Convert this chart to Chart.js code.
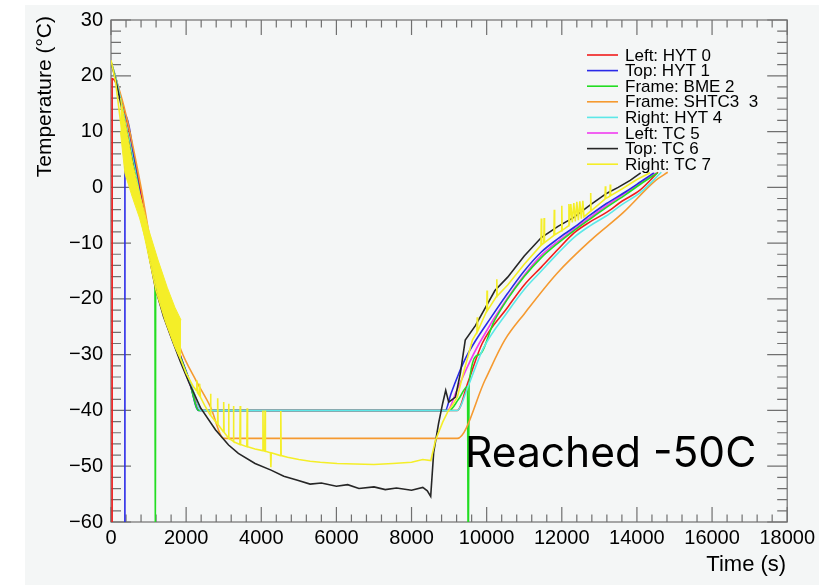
<!DOCTYPE html>
<html>
<head>
<meta charset="utf-8">
<script src="https://cdn.jsdelivr.net/npm/chart.js@4.4.1/dist/chart.umd.min.js"></script>
<style>
  html, body { margin: 0; padding: 0; background: #fff; }
  #wrap { width: 819px; height: 585px; }
</style>
</head>
<body>
<div id="wrap"><canvas id="chart" width="819" height="585"></canvas></div>
<script>
// axis ticks
const xTickValues = [0, 2000, 4000, 6000, 8000, 10000, 12000, 14000, 16000, 18000];
const yTickValues = [-60, -50, -40, -30, -20, -10, 0, 10, 20, 30];

const seriesNames = ['Left: HYT 0', 'Top: HYT 1', 'Frame: BME 2', 'Frame: SHTC3  3',
                     'Right: HYT 4', 'Left: TC 5', 'Top: TC 6', 'Right: TC 7'];
const seriesColors = ['#f01c1c', '#2a2ae8', '#22dd22', '#f59a30',
                      '#5ce8e8', '#f03cf0', '#262626', '#f4ee28'];

// Left: HYT 0
const hyt0Time = [30, 31, 400, 700, 950, 1180, 1500, 1865, 2100, 2450, 9220, 9500, 9880, 10560, 11000, 11455, 11900, 12320, 12750, 13190, 13600, 14080, 14560];
const hyt0Temp = [-70, 19.5, 12.5, 2.5, -7, -15, -22, -30.5, -35, -40, -40, -35, -28, -21.5, -17.5, -14.3, -11.1, -8.2, -6.2, -4.5, -2.5, -0.5, 2.7];

// Top: HYT 1
const hyt1Time = [370, 371, 700, 950, 1180, 1400, 1630, 2075, 2330, 8900, 9050, 9250, 9450, 9695, 10100, 10560, 11000, 11455, 11900, 12320, 12750, 13190, 13700, 14100, 14450];
const hyt1Temp = [-70, 13, 1.5, -8.5, -17, -22.3, -26.5, -34.4, -40, -40, -37, -33.5, -30.5, -27.6, -23.5, -19, -15, -11.6, -9.2, -7.2, -5, -2.9, -0.8, 1, 2.6];

// Frame: BME 2
const bme2Time = [0, 150, 400, 700, 950, 1170, 1180, 1190, 1400, 1630, 2075, 2340, 9000, 9250, 9490, 9510, 9530, 9800, 10200, 10560, 11000, 11455, 11900, 12320, 12750, 13190, 13700, 14100, 14550];
const bme2Temp = [22.5, 19, 11, 1, -9, -16.8, -70, -17.2, -22.5, -26.7, -34.5, -40, -40, -38, -35.7, -70, -35.3, -30, -24, -20, -16, -12.6, -10, -7.8, -5.7, -3.6, -1.3, 0.6, 2.6];

// Frame: SHTC3 3
const shtc3Time = [0, 400, 800, 1100, 1500, 1865, 2260, 2650, 3000, 9220, 9960, 10480, 11010, 11876, 12770, 13640, 14500, 14820];
const shtc3Temp = [22.5, 13, 0, -11.5, -21.5, -29.2, -34.6, -39.4, -45, -45, -34.5, -27.4, -22.6, -15.4, -9.5, -4.5, 1.25, 2.7];

// Right: HYT 4
const hyt4Time = [0, 150, 400, 700, 950, 1180, 1400, 1630, 1810, 2075, 2250, 2390, 9220, 9500, 9900, 10560, 11000, 11455, 11900, 12320, 12750, 13190, 13600, 14080, 14650];
const hyt4Temp = [22.5, 19, 11, 0.8, -9, -17.3, -22.5, -26.8, -30.2, -34.6, -37.5, -40, -40, -35.8, -29, -22.3, -18.3, -15, -11.8, -9, -6.9, -5.1, -3.1, -1, 2.7];

// Left: TC 5
const tc5Time = [0, 150, 400, 700, 950, 1180, 1400, 1630, 2075, 2370, 8950, 9200, 9500, 9800, 10560, 11455, 12320, 13190, 14100, 14500];
const tc5Temp = [22.5, 19, 10.8, 0.3, -9.6, -17.7, -22.9, -27.2, -34.8, -40, -40, -36.5, -32, -28, -19.8, -12.2, -7.6, -3.3, 0.8, 2.6];

// Top: TC 6
const tc6Time = [0, 150, 400, 700, 950, 1180, 1400, 1630, 1850, 2075, 2390, 2785, 3130, 3390, 3835, 4260, 4600, 4965, 5300, 5600, 6000, 6300, 6600, 7000, 7300, 7600, 8000, 8300, 8420, 8510, 8590, 8720, 8830, 8910, 8990, 9170, 9300, 9430, 9700, 10220, 10560, 11000, 11455, 11900, 12320, 12750, 13190, 13500, 13820, 14100];
const tc6Temp = [22.5, 18.5, 10.5, 0, -10, -18, -23.2, -27.4, -31.3, -35, -39.6, -43.5, -46.2, -47.7, -49.5, -50.7, -51.8, -52.5, -53.2, -53.0, -53.6, -53.3, -54.0, -53.7, -54.2, -53.9, -54.3, -53.8, -54.4, -55.4, -47.5, -42.3, -38.7, -36.4, -38.5, -37.6, -33.3, -27.4, -24.8, -18.5, -16.1, -12.3, -9, -7, -5.4, -3.2, -1.1, 0, 1.25, 2.6];

// Right: TC 7
const tc7Time = [0, 120, 250, 450, 700, 950, 1200, 1450, 1700, 1865, 2000, 2200, 2270, 2285, 2300, 2340, 2360, 2380, 2500,
  2640, 2650, 2660, 2830, 2840, 2850, 2990, 3000, 3010, 3120, 3130, 3140, 3250, 3260, 3270, 3430, 3440, 3450, 3615, 3625, 3635,
  3835, 4035, 4045, 4055, 4090, 4100, 4110, 4246, 4256, 4266, 4510, 4520, 4530, 4700, 5000, 5300, 5570, 6020, 6500, 7000, 7500,
  8000, 8300, 8513, 8640, 8830, 8960, 9120, 9220, 9380, 9620, 9740, 9750, 9760, 10000, 10010, 10020, 10260, 10270, 10280,
  10560, 11000, 11445, 11455, 11465, 11520, 11530, 11540, 11790, 11800, 11810, 11990, 12000, 12010, 12180, 12190, 12200,
  12240, 12280, 12320, 12360, 12400, 12440, 12480, 12520, 12560, 12590, 12760, 12770, 12780, 13150, 13160, 13170,
  13280, 13290, 13300, 13600, 14000, 14350];
const tc7Temp = [22.8, 19, 12, 4, -2.5, -10.5, -18.5, -24, -28.5, -31, -33.3, -35.8, -36.4, -34.6, -36.8, -37.2, -35.2, -37.6, -39.2,
  -40.8, -37, -40.9, -42.4, -37.8, -42.5, -43.8, -38.5, -43.9, -44.9, -38.8, -45, -45.5, -39.2, -45.6, -46.1, -39.2, -46.1, -46.5, -39.6, -46.5,
  -46.9, -47.2, -40, -47.2, -47.3, -40, -47.3, -47.6, -50.2, -47.6, -48.1, -40.1, -48.1, -48.4, -48.8, -49.1, -49.3, -49.5, -49.6, -49.7, -49.5,
  -49.3, -48.8, -49, -45.3, -42.1, -40.3, -38.7, -37.6, -33.3, -27.4, -26, -23.3, -25.8, -22.2, -18.5, -22.1, -19.6, -16.5, -19.5,
  -17.5, -13.8, -10.4, -5.6, -10.3, -10, -5.5, -9.9, -8.6, -4, -8.5, -7.8, -3.3, -7.7, -6.9, -3, -6.8,
  -3, -6.3, -2.8, -6.1, -2.6, -5.9, -2.5, -5.6, -2.4, -5.3, -4.3, -1, -4.2, -2.1, 0.2, -2,
  -1.6, 0.5, -1.5, -0.3, 1.4, 2.6];

// Right: TC 7 fast oscillation band during the first cool-down
const tc7BandTime = [250, 370, 580, 760, 1000, 1250, 1500, 1700, 1865];
const tc7BandHigh = [16, 12, 4.2, -1, -7.5, -13, -18, -21.5, -23.8];
const tc7BandLow = [10, 2.5, -2, -5.5, -11.5, -19, -24.8, -28.5, -31];

const seriesTimes = [hyt0Time, hyt1Time, bme2Time, shtc3Time, hyt4Time, tc5Time, tc6Time, tc7Time];
const seriesTemps = [hyt0Temp, hyt1Temp, bme2Temp, shtc3Temp, hyt4Temp, tc5Temp, tc6Temp, tc7Temp];
// later sensors drawn on top, like the original
const drawOrder = [7, 6, 5, 4, 3, 8, 2, 1];
// slow humidity/frame sensors are smooth, thermocouples are noisy
const smoothLine = [true, true, true, true, true, true, false, false];

function toPoints(ts, vs) {
    return ts.map((t, i) => ({ x: t, y: vs[i] }));
}

const datasets = seriesNames.map((name, i) => ({
    label: name,
    data: toPoints(seriesTimes[i], seriesTemps[i]),
    borderColor: seriesColors[i],
    borderWidth: 1.6,
    pointRadius: 0,
    fill: false,
    cubicInterpolationMode: smoothLine[i] ? 'monotone' : 'default',
    tension: 0,
    order: drawOrder[i]
}));

datasets.push({
    label: 'band',
    data: toPoints(tc7BandTime, tc7BandHigh),
    borderColor: seriesColors[7],
    backgroundColor: seriesColors[7],
    borderWidth: 1,
    pointRadius: 0,
    fill: '+1',
    order: 0
});
datasets.push({
    label: 'band low',
    data: toPoints(tc7BandTime, tc7BandLow),
    borderColor: seriesColors[7],
    borderWidth: 1,
    pointRadius: 0,
    fill: false,
    order: 0
});

function fmtMinus(v) {
    return v < 0 ? '\u2212' + Math.abs(v) : String(v);
}

// ROOT-like frame: inward ticks on all four sides, titles, legend and note
const rootFrame = {
    id: 'rootFrame',
    beforeDraw(chart) {
        const ctx = chart.ctx;
        ctx.save();
        ctx.fillStyle = '#ffffff';
        ctx.fillRect(0, 0, chart.width, chart.height);
        ctx.fillStyle = '#f4f6f6';
        ctx.fillRect(25, 5, chart.width - 25, chart.height - 5);
        ctx.restore();
    },
    beforeDatasetsDraw(chart) {
        const { ctx, chartArea: a, scales: { x, y } } = chart;
        ctx.save();
        ctx.strokeStyle = '#707070';
        ctx.lineWidth = 1.2;
        ctx.strokeRect(a.left, a.top, a.right - a.left, a.bottom - a.top);
        ctx.beginPath();
        for (let v = 0; v <= 18000; v += 400) {
            const px = x.getPixelForValue(v);
            const len = v % 2000 === 0 ? 15 : 7.5;
            ctx.moveTo(px, a.bottom); ctx.lineTo(px, a.bottom - len);
            ctx.moveTo(px, a.top); ctx.lineTo(px, a.top + len);
        }
        for (let v = -60; v <= 30; v += 2) {
            const py = y.getPixelForValue(v);
            const len = v % 10 === 0 ? 20 : 10;
            ctx.moveTo(a.left, py); ctx.lineTo(a.left + len, py);
            ctx.moveTo(a.right, py); ctx.lineTo(a.right - len, py);
        }
        ctx.stroke();
        ctx.restore();
    },
    afterDraw(chart) {
        const { ctx, chartArea: a } = chart;
        ctx.save();
        ctx.fillStyle = '#000';

        // axis titles
        ctx.font = '22px "Liberation Sans"';
        ctx.textAlign = 'right';
        ctx.textBaseline = 'alphabetic';
        ctx.fillText('Time (s)', a.right - 1, 571);
        ctx.save();
        ctx.translate(51, 16);
        ctx.rotate(-Math.PI / 2);
        ctx.font = '21px "Liberation Sans"';
        ctx.fillText('Temperature (\u00B0C)', 0, 0);
        ctx.restore();

        // legend
        ctx.font = '17px "Liberation Sans"';
        ctx.textAlign = 'left';
        ctx.textBaseline = 'middle';
        seriesNames.forEach((name, i) => {
            const yy = 55 + i * 15.6;
            ctx.strokeStyle = seriesColors[i];
            ctx.lineWidth = 1.6;
            ctx.beginPath();
            ctx.moveTo(587, yy);
            ctx.lineTo(618, yy);
            ctx.stroke();
            ctx.fillText(name, 625, yy + 1);
        });

        // note
        ctx.font = '42.5px Inter';
        ctx.textBaseline = 'alphabetic';
        ctx.fillText('Reached -50C', 465, 467);
        ctx.restore();
    }
};

new Chart(document.getElementById('chart'), {
    type: 'line',
    data: { datasets: datasets },
    options: {
        responsive: false,
        devicePixelRatio: 1,
        animation: false,
        events: [],
        layout: { autoPadding: false, padding: { top: 20, right: 23, left: 0, bottom: 0 } },
        plugins: {
            legend: { display: false },
            tooltip: { enabled: false }
        },
        scales: {
            x: {
                type: 'linear',
                min: 0,
                max: 18000,
                grid: { display: false, drawTicks: false },
                border: { display: false },
                afterBuildTicks: s => { s.ticks = xTickValues.map(v => ({ value: v })); },
                afterFit: s => { s.height = 63; },
                ticks: {
                    autoSkip: false,
                    maxRotation: 0,
                    padding: 4,
                    color: '#000',
                    font: { family: 'Liberation Sans', size: 20 },
                    callback: v => String(v)
                }
            },
            y: {
                type: 'linear',
                min: -60,
                max: 30,
                grid: { display: false, drawTicks: false },
                border: { display: false },
                afterBuildTicks: s => { s.ticks = yTickValues.map(v => ({ value: v })); },
                afterFit: s => { s.width = 111; },
                ticks: {
                    autoSkip: false,
                    padding: 8,
                    color: '#000',
                    font: { family: 'Liberation Sans', size: 20 },
                    callback: v => fmtMinus(v)
                }
            }
        }
    },
    plugins: [rootFrame]
});
</script>
</body>
</html>
